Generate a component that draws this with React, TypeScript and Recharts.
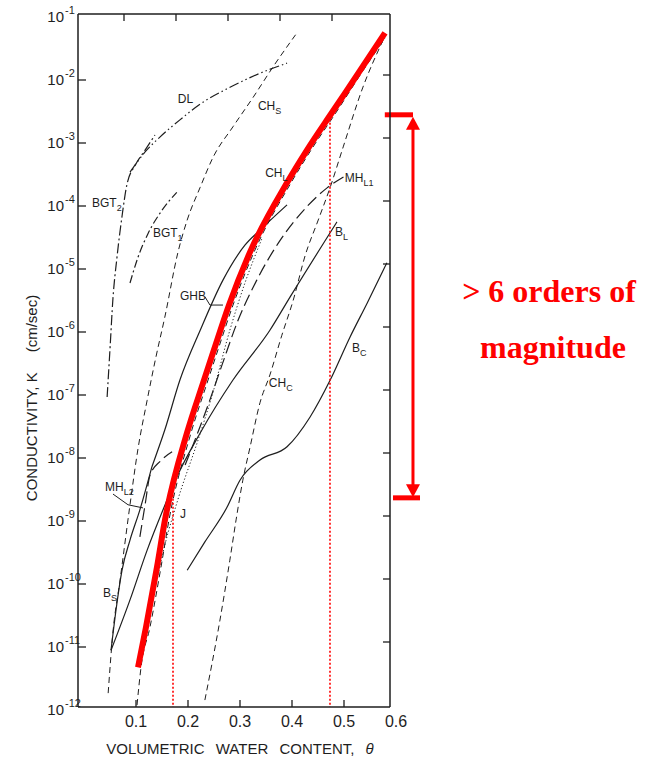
import React from 'react';
import { ComposedChart, Line, XAxis, YAxis, Scatter, ReferenceLine } from 'recharts';

// Hydraulic conductivity K (as log10 of cm/sec) against volumetric water content θ.
type Pair = [number, number];

const thetaTicks = [0.1, 0.2, 0.3, 0.4, 0.5, 0.6];
const decadeTicks = [-1, -2, -3, -4, -5, -6, -7, -8, -9, -10, -11, -12];

// [θ, log10 K] for each soil curve
const curveDL: Pair[] = [[0.1, -3.51], [0.129, -3.19], [0.158, -2.95], [0.196, -2.68], [0.235, -2.43], [0.298, -2.14], [0.35, -1.94], [0.402, -1.78]];
const curveBGT2: Pair[] = [[0.056, -7.08], [0.062, -6.25], [0.067, -5.54], [0.075, -4.86], [0.085, -4.19], [0.094, -3.71], [0.11, -3.4], [0.129, -3.16], [0.148, -2.92]];
const curveBGT1: Pair[] = [[0.1, -5.27], [0.115, -4.87], [0.135, -4.48], [0.162, -4.11], [0.19, -3.83]];
const curveCHS: Pair[] = [[0.058, -11.78], [0.067, -10.83], [0.081, -9.98], [0.1, -8.79], [0.115, -7.92], [0.133, -7.13], [0.15, -6.44], [0.167, -5.81], [0.192, -4.79], [0.21, -4.27], [0.235, -3.75], [0.26, -3.27], [0.298, -2.79], [0.337, -2.32], [0.375, -1.84], [0.421, -1.3]];
const curveCHL: Pair[] = [[0.1135, -11.97], [0.1212, -11.37], [0.1385, -10.73], [0.1596, -9.78], [0.175, -9.03], [0.2173, -7.65], [0.2481, -6.86], [0.2692, -6.33], [0.2981, -5.62], [0.3385, -4.78], [0.4096, -3.68], [0.4481, -3.16], [0.4981, -2.54], [0.5481, -1.9], [0.5904, -1.38]];
const curveCHC: Pair[] = [[0.244, -11.89], [0.273, -10.62], [0.292, -9.67], [0.304, -9.03], [0.317, -8.4], [0.331, -7.87], [0.35, -7.17], [0.369, -6.73], [0.392, -6.1], [0.414, -5.54], [0.437, -4.83], [0.462, -4.27], [0.485, -3.75], [0.51, -3.11], [0.548, -2.16], [0.587, -1.41]];
const curveMHL1: Pair[] = [[0.206, -8.16], [0.225, -7.76], [0.25, -7.21], [0.277, -6.57], [0.306, -5.9], [0.344, -5.22], [0.389, -4.59], [0.44, -4.06], [0.479, -3.76], [0.514, -3.57]];
const curveMHL2: Pair[] = [[0.119, -9.3], [0.129, -8.79], [0.1385, -8.32], [0.158, -8.1], [0.181, -7.95]];
const curveJ: Pair[] = [[0.154, -9.9], [0.167, -9.43], [0.192, -8.71], [0.231, -7.76], [0.258, -7.05], [0.292, -6.02], [0.321, -5.27], [0.354, -4.56]];
const curveBS: Pair[] = [[0.0635, -11.1], [0.0731, -10.46], [0.0846, -9.83], [0.1, -9.35], [0.119, -8.87], [0.142, -8.19]];
const curveGHB: Pair[] = [[0.142, -8.19], [0.167, -7.6], [0.196, -6.81], [0.235, -6.02], [0.279, -5.22], [0.321, -4.67], [0.35, -4.43], [0.402, -4.03]];
const curveBL: Pair[] = [[0.0635, -11.1], [0.1, -10.3], [0.133, -9.51], [0.1635, -8.87], [0.19, -8.35], [0.235, -7.65], [0.298, -6.81], [0.369, -6.02], [0.408, -5.49], [0.498, -4.3]];
const curveBC: Pair[] = [[0.21, -9.83], [0.244, -9.38], [0.2865, -8.83], [0.3115, -8.4], [0.35, -8.08], [0.402, -7.87], [0.446, -7.4], [0.485, -6.81], [0.523, -6.13], [0.556, -5.59], [0.594, -4.95]];

// highlighted envelope curve
const curveHighlight: Pair[] = [[0.1154, -11.37], [0.1308, -10.73], [0.1519, -9.78], [0.1673, -9.03], [0.2096, -7.65], [0.2404, -6.86], [0.2615, -6.33], [0.2904, -5.62], [0.3308, -4.78], [0.4019, -3.68], [0.4404, -3.16], [0.4904, -2.54], [0.5423, -1.9], [0.5904, -1.3]];

// leader lines from labels to curves
const leaderGHB: Pair[] = [[0.2442, -5.49], [0.2538, -5.62], [0.2788, -5.62]];
const leaderMHL2: Pair[] = [[0.0673, -8.62], [0.0962, -8.79], [0.125, -8.84]];

// water contents marked with dotted drop lines: [θ, log10 K at top]
const dropLines: Pair[] = [[0.1827, -8.63], [0.4846, -2.6]];

// span of the "orders of magnitude" bracket (log10 K)
const spanTop = -2.6;
const spanBottom = -8.68;
const spanTheta = 0.6442;

const curveLabels = [
  { name: 'DL', sub: '', t: 0.192, k: -2.41 },
  { name: 'CH', sub: 'S', t: 0.346, k: -2.52 },
  { name: 'CH', sub: 'L', t: 0.36, k: -3.59 },
  { name: 'MH', sub: 'L1', t: 0.513, k: -3.67 },
  { name: 'BGT', sub: '2', t: 0.027, k: -4.06 },
  { name: 'BGT', sub: '1', t: 0.144, k: -4.54 },
  { name: 'B', sub: 'L', t: 0.494, k: -4.52 },
  { name: 'GHB', sub: '', t: 0.196, k: -5.54 },
  { name: 'B', sub: 'C', t: 0.527, k: -6.37 },
  { name: 'CH', sub: 'C', t: 0.367, k: -6.92 },
  { name: 'MH', sub: 'L2', t: 0.052, k: -8.57 },
  { name: 'J', sub: '', t: 0.196, k: -9.0 },
  { name: 'B', sub: 'S', t: 0.048, k: -10.25 },
];

const INK = '#1e1e1e';
const RED = '#ff0000';
const SANS = "'Liberation Sans', Arial, Helvetica, sans-serif";
const SERIF = "'Liberation Serif', 'Times New Roman', serif";

const pts = (arr: Pair[]) => arr.map(([t, k]) => ({ t, k }));

const BottomTick = (p: any) => {
  const { x, y, payload } = p;
  const cx = x + 6;
  return (
    <g>
      {payload.value < 0.6 && <line x1={cx} y1={y} x2={cx} y2={y - 7} stroke={INK} strokeWidth={1.3} />}
      <text x={cx} y={y + 20} textAnchor="middle" fontSize={16} fill={INK} fontFamily={SANS}>
        {Number(payload.value).toFixed(1)}
      </text>
    </g>
  );
};

const TopTick = (p: any) => {
  const { x, y, payload } = p;
  if (payload.value >= 0.6) return <g />;
  const cx = x - 6;
  return <line x1={cx} y1={y} x2={cx} y2={y + 7} stroke={INK} strokeWidth={1.3} />;
};

const LeftTick = (p: any) => {
  const { x, y, payload } = p;
  const cy = y + 3;
  const v = payload.value;
  return (
    <g>
      {v < -1 && v > -12 && <line x1={x} y1={cy} x2={x + 8} y2={cy} stroke={INK} strokeWidth={1.3} />}
      <text x={x - 14} y={cy + 5} textAnchor="end" fontSize={15} fill={INK} fontFamily={SANS}>10</text>
      <text x={x - 13} y={cy - 3} textAnchor="start" fontSize={11} fill={INK} fontFamily={SANS}>{String(v)}</text>
    </g>
  );
};

const RightTick = (p: any) => {
  const { x, y, payload } = p;
  const v = payload.value;
  if (v >= -1 || v <= -12) return <g />;
  const cy = y - 2;
  return <line x1={x} y1={cy} x2={x - 7} y2={cy} stroke={INK} strokeWidth={1.3} />;
};

const CurveLabel = (p: any) => {
  const d = p.payload ?? p;
  const { cx, cy } = p;
  return (
    <text x={cx} y={cy} fontSize={12} fill={INK} fontFamily={SANS}>
      {d.name}
      {d.sub ? <tspan dy={4} fontSize={9}>{d.sub}</tspan> : null}
    </text>
  );
};

const DoubleArrow = (p: any) => {
  const { x1, y1, x2, y2 } = p;
  const h = 13;
  const w = 7;
  return (
    <g>
      <line x1={x1} y1={y1 + h - 2} x2={x2} y2={y2 - h + 2} stroke={RED} strokeWidth={3} />
      <polygon points={`${x1},${y1} ${x1 - w},${y1 + h} ${x1 + w},${y1 + h}`} fill={RED} />
      <polygon points={`${x2},${y2} ${x2 - w},${y2 - h} ${x2 + w},${y2 - h}`} fill={RED} />
    </g>
  );
};

const frame = { stroke: INK, strokeWidth: 1.5 };

const lineBase = {
  type: 'monotone' as const,
  dataKey: 'k',
  dot: false,
  activeDot: false,
  isAnimationActive: false,
  stroke: INK,
  strokeWidth: 1.2,
};

export default function App() {
  return (
    <div style={{ position: 'absolute', left: 0, top: 0, width: 654, height: 757, background: '#ffffff' }}>
      <ComposedChart width={654} height={757} margin={{ top: 10, right: 260, bottom: 0, left: 18 }}>
        <XAxis
          type="number"
          dataKey="t"
          domain={[0, 0.6]}
          ticks={thetaTicks}
          interval={0}
          allowDataOverflow
          height={50}
          tickSize={0}
          tickMargin={0}
          tickLine={false}
          axisLine={frame}
          tick={BottomTick}
        />
        <XAxis
          xAxisId="top"
          orientation="top"
          type="number"
          dataKey="t"
          domain={[0, 0.6]}
          ticks={thetaTicks}
          interval={0}
          allowDataOverflow
          height={4}
          tickSize={0}
          tickMargin={0}
          tickLine={false}
          axisLine={frame}
          tick={TopTick}
        />
        <YAxis
          type="number"
          dataKey="k"
          domain={[-12, -1]}
          ticks={decadeTicks}
          interval={0}
          allowDataOverflow
          width={60}
          tickSize={0}
          tickMargin={0}
          tickLine={false}
          axisLine={frame}
          tick={LeftTick}
        />
        <YAxis
          yAxisId="right"
          orientation="right"
          type="number"
          dataKey="k"
          domain={[-12, -1]}
          ticks={decadeTicks}
          interval={0}
          allowDataOverflow
          width={4}
          tickSize={0}
          tickMargin={0}
          tickLine={false}
          axisLine={frame}
          tick={RightTick}
        />

        <Line {...lineBase} data={pts(curveDL)} strokeDasharray="10 3 1.5 3 1.5 3" />
        <Line {...lineBase} data={pts(curveBGT2)} strokeDasharray="10 3 2 3" />
        <Line {...lineBase} data={pts(curveBGT1)} strokeDasharray="8 3 2 3" />
        <Line {...lineBase} data={pts(curveCHS)} strokeWidth={1} strokeDasharray="6 4" />
        <Line {...lineBase} data={pts(curveCHL)} strokeWidth={1} strokeDasharray="6 4" />
        <Line {...lineBase} data={pts(curveCHC)} strokeWidth={1} strokeDasharray="6 4" />
        <Line {...lineBase} data={pts(curveMHL1)} strokeDasharray="12 5" />
        <Line {...lineBase} data={pts(curveMHL2)} strokeDasharray="12 5" />
        <Line {...lineBase} data={pts(curveJ)} strokeWidth={1} strokeDasharray="1.2 2.2" />
        <Line {...lineBase} data={pts(curveBS)} />
        <Line {...lineBase} data={pts(curveGHB)} />
        <Line {...lineBase} data={pts(curveBL)} />
        <Line {...lineBase} data={pts(curveBC)} />
        <Line {...lineBase} type="linear" strokeWidth={1} data={pts(leaderGHB)} />
        <Line {...lineBase} type="linear" strokeWidth={1} data={pts(leaderMHL2)} />

        <Line {...lineBase} data={pts(curveHighlight)} stroke={RED} strokeWidth={6} />

        {dropLines.map(([t, k], i) => (
          <ReferenceLine
            key={`drop-${i}`}
            segment={[{ x: t, y: k }, { x: t, y: -12 }]}
            stroke={RED}
            strokeWidth={1.6}
            strokeDasharray="2 2"
            ifOverflow="visible"
          />
        ))}

        <ReferenceLine
          segment={[{ x: 0.59, y: spanTop }, { x: spanTheta, y: spanTop }]}
          stroke={RED}
          strokeWidth={5}
          ifOverflow="visible"
        />
        <ReferenceLine
          segment={[{ x: 0.6058, y: spanBottom }, { x: 0.6577, y: spanBottom }]}
          stroke={RED}
          strokeWidth={5}
          ifOverflow="visible"
        />
        <ReferenceLine
          segment={[{ x: spanTheta, y: spanTop - 0.03 }, { x: spanTheta, y: spanBottom + 0.01 }]}
          stroke={RED}
          ifOverflow="visible"
          shape={DoubleArrow}
        />

        <Scatter data={curveLabels} dataKey="k" shape={CurveLabel} isAnimationActive={false} />

        <text x={240} y={754} textAnchor="middle" fontSize={15} fill={INK} fontFamily={SANS} wordSpacing={7}>
          VOLUMETRIC WATER CONTENT, <tspan fontStyle="italic">θ</tspan>
        </text>
        <text transform="translate(37,398) rotate(-90)" textAnchor="middle" fontSize={15} fill={INK} fontFamily={SANS}>
          CONDUCTIVITY, K<tspan dx={20}>(cm/sec)</tspan>
        </text>

        <text x={549} y={302} textAnchor="middle" fontSize={32} fontWeight="bold" fill={RED} fontFamily={SERIF}>
          {'> 6 orders of'}
        </text>
        <text x={553} y={358} textAnchor="middle" fontSize={32} fontWeight="bold" fill={RED} fontFamily={SERIF}>
          magnitude
        </text>
      </ComposedChart>
    </div>
  );
}
